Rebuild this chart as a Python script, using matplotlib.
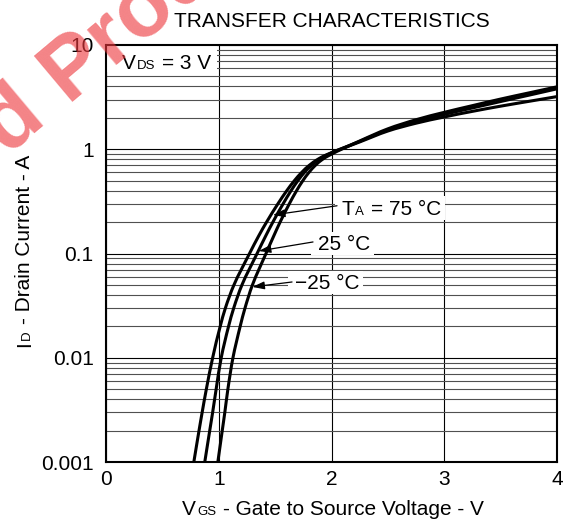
import numpy as np
import matplotlib
matplotlib.use('Agg')
import matplotlib.pyplot as plt
from matplotlib.patches import Rectangle, PathPatch
from matplotlib.path import Path
from matplotlib.ticker import NullFormatter, NullLocator

plt.rcParams['font.family'] = ['Liberation Sans', 'DejaVu Sans']

# ---------------- data ----------------
# T_A = 75 C
V_75 = [0.779, 0.825, 0.853, 0.890, 0.946, 1.013, 1.059, 1.135, 1.273, 1.358, 1.424, 1.525, 1.603,
        1.671, 1.736, 1.802, 1.878, 1.951, 2.25, 2.5, 2.75, 3.0, 3.25, 3.5, 3.75, 4.0]
I_75 = [0.001, 0.002, 0.003, 0.005, 0.01, 0.02, 0.03, 0.05, 0.1, 0.15, 0.2, 0.3, 0.4,
        0.5, 0.6, 0.7, 0.8, 0.88, 1.175, 1.496, 1.778, 2.04, 2.31, 2.59, 2.88, 3.2]
# T_A = 25 C
V_25 = [0.876, 0.920, 0.946, 0.977, 1.022, 1.087, 1.133, 1.206, 1.340, 1.420, 1.480, 1.571, 1.641,
        1.702, 1.760, 1.821, 1.890, 1.958, 2.25, 2.5, 2.75, 3.0, 3.25, 3.5, 3.75, 4.0]
I_25 = [0.001, 0.002, 0.003, 0.005, 0.01, 0.02, 0.03, 0.05, 0.1, 0.15, 0.2, 0.3, 0.4,
        0.5, 0.6, 0.7, 0.8, 0.88, 1.19, 1.53, 1.85, 2.16, 2.49, 2.87, 3.30, 3.80]
# T_A = -25 C
V_m25 = [0.992, 1.031, 1.054, 1.081, 1.126, 1.190, 1.233, 1.299, 1.419, 1.491, 1.544, 1.626, 1.690,
         1.746, 1.800, 1.856, 1.920, 1.985, 2.25, 2.5, 2.75, 3.0, 3.25, 3.5, 3.75, 4.0]
I_m25 = [0.001, 0.002, 0.003, 0.005, 0.01, 0.02, 0.03, 0.05, 0.1, 0.15, 0.2, 0.3, 0.4,
         0.5, 0.6, 0.7, 0.8, 0.88, 1.2, 1.57, 1.92, 2.26, 2.62, 3.03, 3.47, 3.97]

x_ticks = [0, 1, 2, 3, 4]
x_tick_labels = ['0', '1', '2', '3', '4']
y_ticks = [0.001, 0.01, 0.1, 1, 10]
y_tick_labels = ['0.001', '0.01', '0.1', '1', '10']

title = 'TRANSFER CHARACTERISTICS'

# ---------------- figure ----------------
W, H, DPI = 577, 525, 100
FS, FS_SUB = 15, 9.5
fig = plt.figure(figsize=(W / DPI, H / DPI), dpi=DPI)
fig.patch.set_facecolor('white')
ax = fig.add_axes([106 / W, 1 - 462 / H, (557 - 106) / W, (462 - 45) / H])
ax.set_yscale('log')
ax.set_xlim(0, 4)
ax.set_ylim(0.001, 10)
ax.set_autoscale_on(False)

ax.set_xticks(x_ticks)
ax.set_xticklabels(x_tick_labels)
ax.set_yticks(y_ticks)
ax.set_yticklabels(y_tick_labels)
minor = [m * 10.0 ** k for k in range(-3, 1) for m in range(2, 10)]
ax.set_yticks(minor, minor=True)
ax.yaxis.set_minor_formatter(NullFormatter())
ax.xaxis.set_minor_locator(NullLocator())

ax.set_axisbelow(True)
ax.grid(True, which='major', color='black', lw=0.8)
ax.grid(True, which='minor', axis='y', color='#505050', lw=0.8)
ax.tick_params(which='both', length=0)
ax.tick_params(axis='x', pad=6, labelsize=FS)
ax.tick_params(axis='y', pad=9, labelsize=FS)
for sp in ax.spines.values():
    sp.set_linewidth(1.5)
    sp.set_color('black')


def smooth_path(V, I, sx=112.75, sy=104.25):
    """Smooth Bezier path through the read points (built in V / log10(I) space)."""
    P = np.column_stack([np.asarray(V, float) * sx, np.log10(np.asarray(I, float)) * sy])
    n = len(P)
    T = np.zeros_like(P)
    for i in range(n):
        if i == 0:
            d = P[1] - P[0]
        elif i == n - 1:
            d = P[-1] - P[-2]
        else:
            d1 = P[i] - P[i - 1]
            d2 = P[i + 1] - P[i]
            d = d1 / np.linalg.norm(d1) + d2 / np.linalg.norm(d2)
        T[i] = d / np.linalg.norm(d)
    verts = [P[0]]
    codes = [Path.MOVETO]
    for i in range(n - 1):
        L = np.linalg.norm(P[i + 1] - P[i])
        verts += [P[i] + T[i] * L / 3, P[i + 1] - T[i + 1] * L / 3, P[i + 1]]
        codes += [Path.CURVE4] * 3
    verts = np.array(verts)
    verts[:, 0] /= sx
    verts[:, 1] = 10 ** (verts[:, 1] / sy)
    return Path(verts, codes)


for V, I in [(V_75, I_75), (V_25, I_25), (V_m25, I_m25)]:
    ax.add_patch(PathPatch(smooth_path(V, I), facecolor='none', edgecolor='black', lw=2.2,
                           capstyle='butt', joinstyle='round', zorder=2))

ax.set_title(title, fontsize=FS, pad=13)

renderer = fig.canvas.get_renderer()


def compose(x, y, pieces, ha='center', rotation=0, zorder=4):
    """Draw text pieces of mixed sizes on a common baseline. x, y in figure pixels."""
    widths = []
    for s, sz, gap in pieces:
        t = fig.text(0, 0, s, fontsize=sz)
        widths.append(t.get_window_extent(renderer).width)
        t.remove()
    gaps = [gap * sz * DPI / 72 for s, sz, gap in pieces]
    total = sum(widths) + sum(gaps)
    start = {'left': 0, 'center': -total / 2, 'right': -total}[ha]
    a = np.deg2rad(rotation)
    c, s_ = np.cos(a), np.sin(a)
    pos = start
    for (s, sz, gap), w, g in zip(pieces, widths, gaps):
        pos += g
        fig.text((x + pos * c) / W, (y + pos * s_) / H, s, fontsize=sz, rotation=rotation,
                 rotation_mode='anchor', ha='left', va='baseline', zorder=zorder)
        pos += w
    return x + start, x + start + total


# axis labels
compose(333, H - 515, [('V', FS, 0), ('GS', FS_SUB, 0.08), ('- Gate to Source Voltage - V', FS, 0.33)])
compose(30, H - 251, [('I', FS, 0), ('D', FS_SUB, 0.08), ('- Drain Current - A', FS, 0.33)], rotation=90)

# V_DS label with white box
ax.add_patch(Rectangle((0, 5.5), 0.985, 4.5, facecolor='white', edgecolor='none', zorder=1))
compose(121.7, H - 69.3, [('V', FS, 0), ('DS', FS_SUB, 0.08), ('= 3 V', FS, 0.33)], ha='left')

# temperature annotations: (pieces, text start/baseline, arrow tail, arrow tip) in data coords
annotations = [
    ([('T', FS, 0), ('A', FS_SUB, 0.05), ('= 75 °C', FS, 0.33)], (2.093, 0.2366), (2.049, 0.287), (1.48, 0.234)),
    ([('25 °C', FS, 0)], (1.880, 0.107), (1.836, 0.129), (1.355, 0.1057)),
    ([('\u221225 °C', FS, 0)], (1.676, 0.0452), (1.650, 0.0533), (1.298, 0.0478)),
]
cap = 0.716 * FS * DPI / 72
for pieces, anchor, tail, tip in annotations:
    px, py = ax.transData.transform(anchor)
    x0, x1 = compose(px, py, pieces, ha='left')
    rx0, rx1 = x0 - 7, x1 + 4
    ry0, ry1 = py - 5, py + cap + 4
    ax.add_patch(Rectangle((rx0 / W, ry0 / H), (rx1 - rx0) / W, (ry1 - ry0) / H,
                           transform=fig.transFigure, facecolor='white', edgecolor='none', zorder=1))
    ax.annotate('', xy=tip, xytext=tail, xycoords='data', textcoords='data',
                arrowprops=dict(arrowstyle='-|>,head_length=0.4,head_width=0.13', color='black',
                                lw=0.9, mutation_scale=18, shrinkA=0, shrinkB=0), zorder=3)

# watermark
wm_color = (0.93, 0.22, 0.24)
bx, by = 66, H - 102
ang = np.deg2rad(40)
fig.text(bx / W, by / H, 'Product', fontsize=63, fontweight='bold', color=wm_color, alpha=0.62,
         rotation=40, rotation_mode='anchor', ha='left', va='baseline', zorder=10)
sp_w = 0.278 * 63 * DPI / 72
fig.text((bx - sp_w * np.cos(ang)) / W, (by - sp_w * np.sin(ang)) / H, 'Discontinued', fontsize=63,
         fontweight='bold', color=wm_color, alpha=0.62, rotation=40, rotation_mode='anchor',
         ha='right', va='baseline', zorder=10)

fig.savefig('out.png', dpi=DPI)
